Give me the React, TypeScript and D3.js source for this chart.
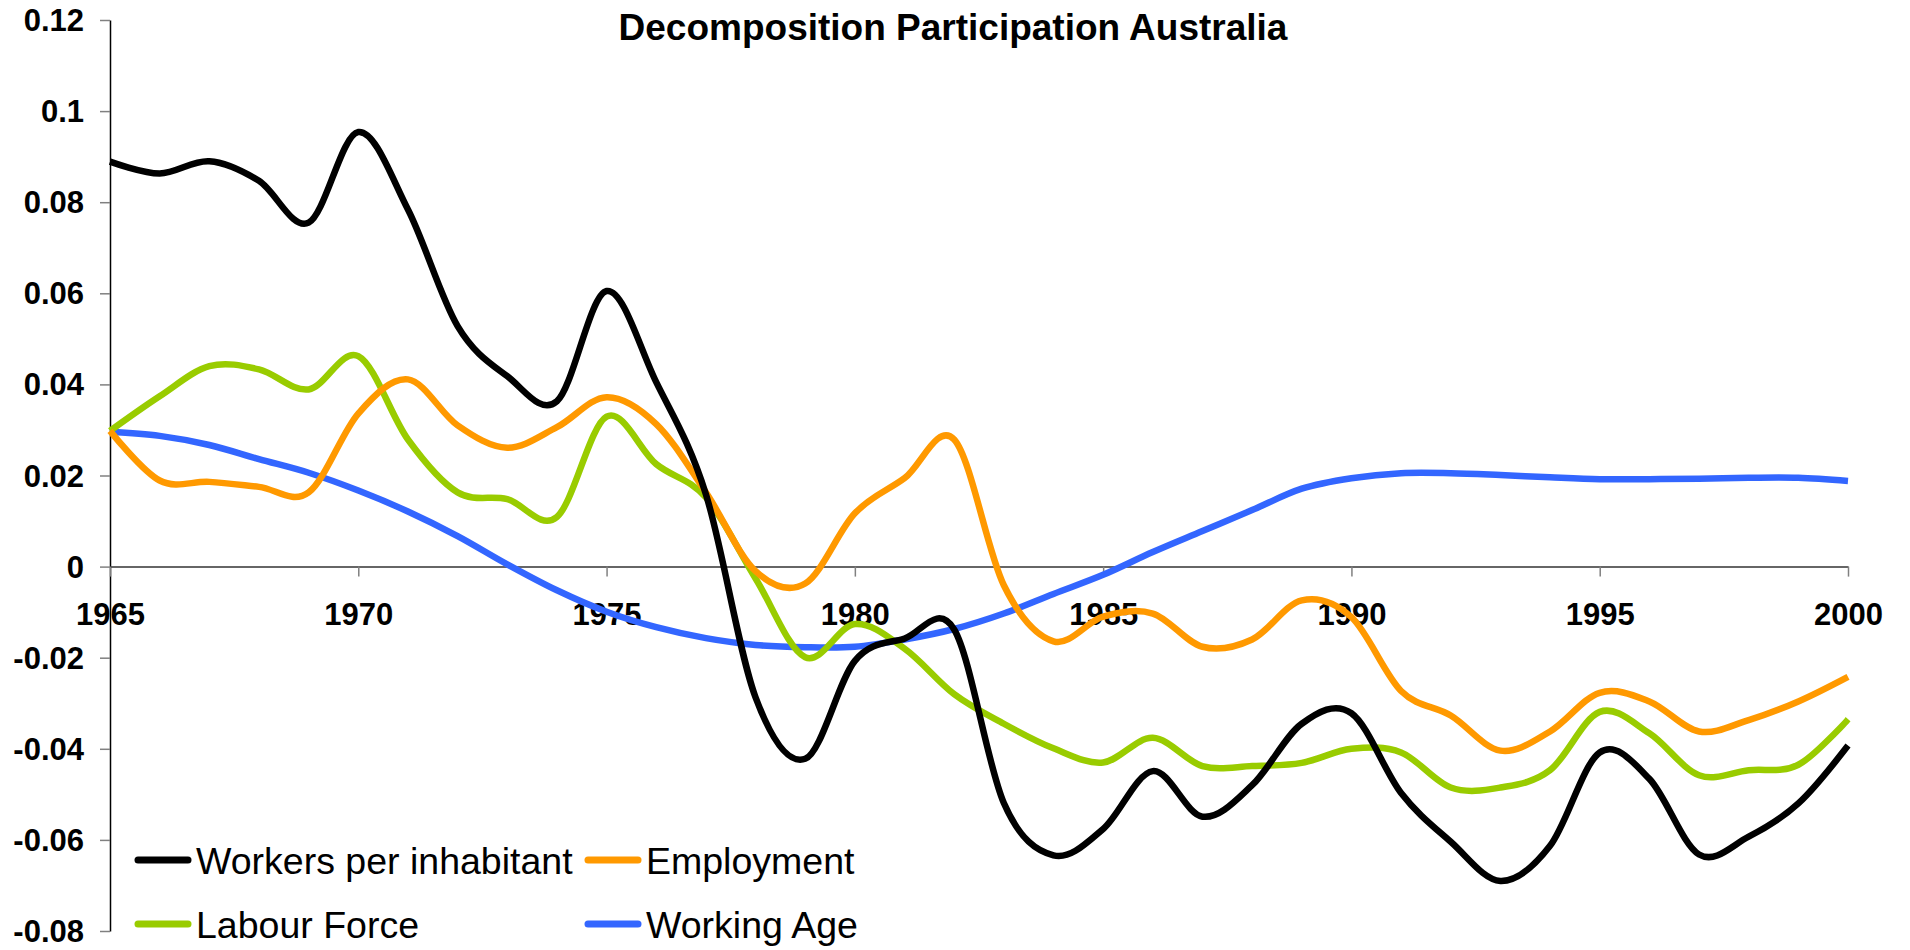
import React, { useRef, useEffect } from 'react';
import * as d3 from 'd3';

// x categories
const years = [
  1965, 1966, 1967, 1968, 1969, 1970, 1971, 1972, 1973, 1974,
  1975, 1976, 1977, 1978, 1979, 1980, 1981, 1982, 1983, 1984,
  1985, 1986, 1987, 1988, 1989, 1990, 1991, 1992, 1993, 1994,
  1995, 1996, 1997, 1998, 1999, 2000,
];

// series values
const workersPerInhabitant = [
  0.0889, 0.0863, 0.089, 0.0847, 0.0755, 0.0954, 0.0784, 0.0528, 0.0418, 0.0363,
  0.0605, 0.0405, 0.0159, -0.0287, -0.0422, -0.0207, -0.0158, -0.0138, -0.0519, -0.0634,
  -0.0576, -0.0449, -0.0549, -0.048, -0.0345, -0.0322, -0.0497, -0.0604, -0.069, -0.0613,
  -0.0408, -0.0466, -0.0632, -0.0593, -0.052, -0.0393,
];
const employment = [
  0.0298, 0.0189, 0.0186, 0.0175, 0.0163, 0.0336, 0.0411, 0.031, 0.0261, 0.0306,
  0.0372, 0.0313, 0.0163, -0.001, -0.0037, 0.0117, 0.0194, 0.0279, -0.0041, -0.0164,
  -0.011, -0.0103, -0.0176, -0.016, -0.0074, -0.0111, -0.0273, -0.0327, -0.0404, -0.0362,
  -0.0277, -0.0296, -0.0362, -0.0337, -0.0296, -0.0242,
];
const labourForce = [
  0.0298, 0.0374, 0.044, 0.0433, 0.0389, 0.0462, 0.0279, 0.0163, 0.0148, 0.0109,
  0.0329, 0.0225, 0.0152, -0.0026, -0.0199, -0.0126, -0.018, -0.028, -0.0345, -0.0399,
  -0.043, -0.0376, -0.0438, -0.0438, -0.0431, -0.04, -0.0408, -0.0485, -0.0485, -0.0447,
  -0.0319, -0.0366, -0.0458, -0.0447, -0.0435, -0.0335,
];
const workingAge = [
  0.0296, 0.0287, 0.0267, 0.0236, 0.0206, 0.0167, 0.0121, 0.0067, 0.0005, -0.0052,
  -0.0099, -0.0133, -0.0157, -0.0172, -0.0177, -0.0176, -0.016, -0.0137, -0.0103, -0.006,
  -0.0018, 0.0032, 0.0078, 0.0124, 0.0171, 0.0194, 0.0205, 0.0205, 0.0201, 0.0196,
  0.0192, 0.0192, 0.0193, 0.0195, 0.0195, 0.0188,
];

// tick labels
const yTicks = [0.12, 0.1, 0.08, 0.06, 0.04, 0.02, 0, -0.02, -0.04, -0.06, -0.08];
const xTicks = [1965, 1970, 1975, 1980, 1985, 1990, 1995, 2000];

const seriesNames = ['Workers per inhabitant', 'Employment', 'Labour Force', 'Working Age'];
const seriesColors = ['#000000', '#FF9900', '#99CC00', '#3366FF'];

const title = 'Decomposition Participation Australia';

function DecompositionChart() {
  const svgRef = useRef(null);

  useEffect(() => {
    const width = 1910;
    const height = 950;
    const margin = { top: 20, right: 62, bottom: 19, left: 110 };
    const font = '"Liberation Sans", Arial, Helvetica, sans-serif';

    const svg = d3.select(svgRef.current)
      .attr('width', width)
      .attr('height', height);
    svg.selectAll('*').remove();

    const x = d3.scaleLinear()
      .domain([1965, 2000])
      .range([margin.left, width - margin.right]);

    const y = d3.scaleLinear()
      .domain([-0.08, 0.12])
      .range([height - margin.bottom, margin.top]);

    // Title
    svg.append('text')
      .attr('x', 953)
      .attr('y', 40)
      .attr('text-anchor', 'middle')
      .style('font-family', font)
      .style('font-size', '37px')
      .style('font-weight', 'bold')
      .text(title);

    // Y axis
    const yAxis = svg.append('g')
      .attr('transform', `translate(${margin.left},0)`)
      .call(d3.axisLeft(y)
        .tickValues(yTicks)
        .tickSize(10)
        .tickSizeOuter(0)
        .tickPadding(16)
        .tickFormat(d => String(+(+d).toFixed(2))));
    yAxis.select('.domain').attr('stroke', '#000').attr('stroke-width', 1.5);
    yAxis.selectAll('.tick line').attr('stroke', '#808080').attr('stroke-width', 1.5);
    yAxis.selectAll('.tick text')
      .attr('dy', '0.34em')
      .style('font-family', font)
      .style('font-size', '31px')
      .style('font-weight', 'bold')
      .attr('fill', '#000');

    // X axis at zero
    const xAxis = svg.append('g')
      .attr('transform', `translate(0,${y(0)})`)
      .call(d3.axisBottom(x)
        .tickValues(xTicks)
        .tickSize(10)
        .tickSizeOuter(0)
        .tickPadding(26)
        .tickFormat(d => String(d)));
    xAxis.select('.domain').attr('stroke', '#333').attr('stroke-width', 1.5);
    xAxis.selectAll('.tick line').attr('stroke', '#808080').attr('stroke-width', 1.5);
    xAxis.selectAll('.tick text')
      .style('font-family', font)
      .style('font-size', '31px')
      .style('font-weight', 'bold')
      .attr('fill', '#000');

    // Lines
    const allSeries = [workersPerInhabitant, employment, labourForce, workingAge];
    const line = d3.line()
      .x((d, i) => x(years[i]))
      .y(d => y(d))
      .curve(d3.curveCardinal.tension(0));

    // working age at the back, workers per inhabitant on top
    const drawOrder = [3, 2, 1, 0];
    drawOrder.forEach(k => {
      svg.append('path')
        .datum(allSeries[k])
        .attr('d', line)
        .attr('fill', 'none')
        .attr('stroke', seriesColors[k])
        .attr('stroke-width', 6.5)
        .attr('stroke-linejoin', 'round');
    });

    // Legend
    const legendPos = [
      { lx: 138, ly: 860 },
      { lx: 588, ly: 860 },
      { lx: 138, ly: 924 },
      { lx: 588, ly: 924 },
    ];
    const legend = svg.append('g');
    seriesNames.forEach((name, i) => {
      const p = legendPos[i];
      legend.append('line')
        .attr('x1', p.lx)
        .attr('x2', p.lx + 50)
        .attr('y1', p.ly)
        .attr('y2', p.ly)
        .attr('stroke', seriesColors[i])
        .attr('stroke-width', 7)
        .attr('stroke-linecap', 'round');
      legend.append('text')
        .attr('x', p.lx + 58)
        .attr('y', p.ly + 14)
        .style('font-family', font)
        .style('font-size', '37.5px')
        .text(name);
    });
  }, []);

  return <svg ref={svgRef}></svg>;
}

export default function App() {
  return (
    <div style={{ position: 'absolute', left: 0, top: 0, background: '#fff' }}>
      <DecompositionChart />
    </div>
  );
}
